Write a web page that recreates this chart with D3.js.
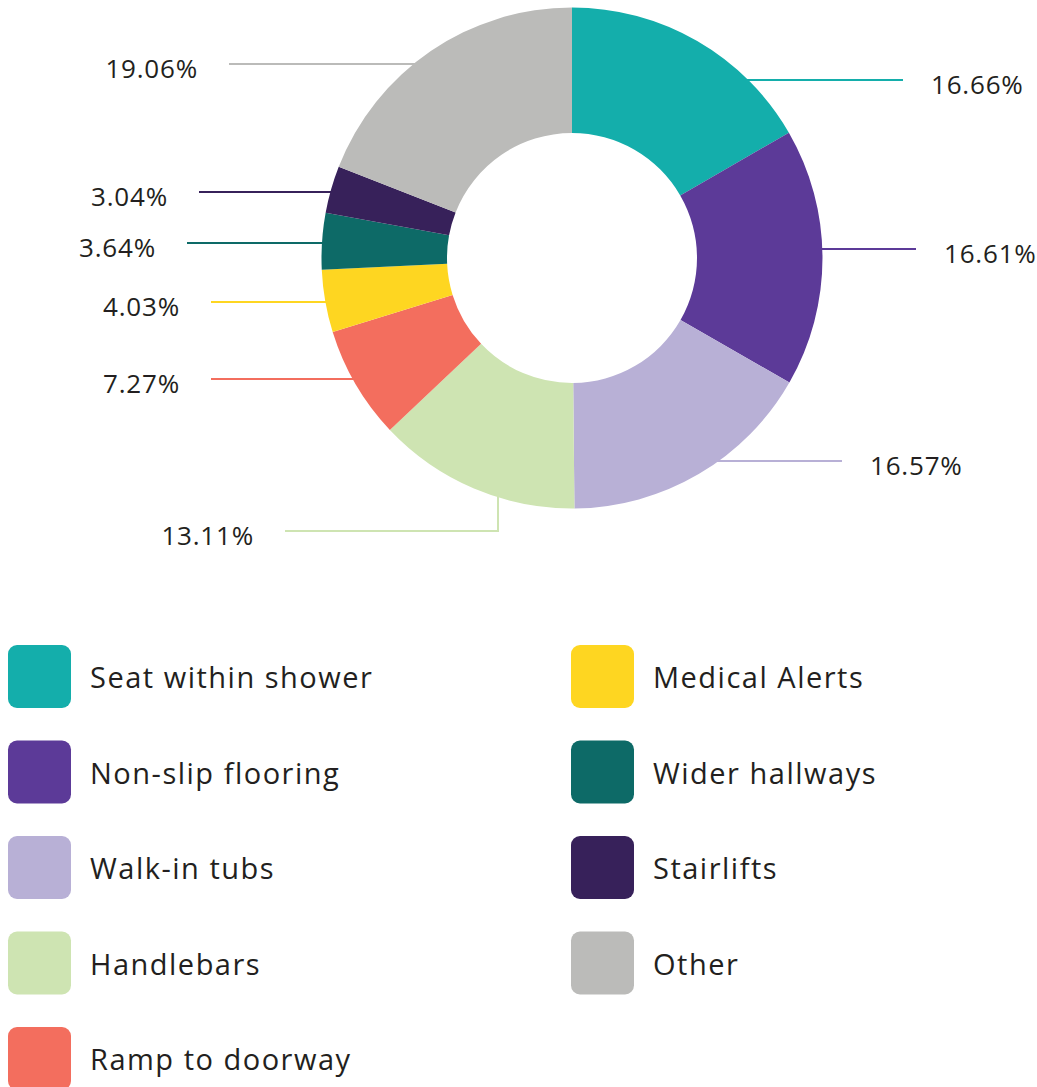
<!DOCTYPE html>
<html lang="en">
<head>
    <meta charset="UTF-8">
    <title>Home modifications</title>
    <script src="https://cdn.jsdelivr.net/npm/d3@7"></script>
    <style>
        body{
            margin: 0;
            background-color: #ffffff;
            font-family: "Open Sans", sans-serif;
        }
        text{
            fill: #231f20;
        }
    </style>
</head>
<body>
<div id="chart"></div>
<script>
    // data
    var CATEGORIES = ["Seat within shower", "Non-slip flooring", "Walk-in tubs", "Handlebars",
        "Ramp to doorway", "Medical Alerts", "Wider hallways", "Stairlifts", "Other"];
    var VALUES = [16.66, 16.61, 16.57, 13.11, 7.27, 4.03, 3.64, 3.04, 19.06];
    var VALUE_LABELS = ["16.66%", "16.61%", "16.57%", "13.11%", "7.27%", "4.03%", "3.64%", "3.04%", "19.06%"];
    var COLORS = ["#14aeab", "#5c3a98", "#b8b0d6", "#cee4b2", "#f36e5e", "#fed621", "#0d6a67", "#37215a", "#bbbbb9"];

    // layout
    var WIDTH = 1037;
    var HEIGHT = 1087;
    var CX = 572, CY = 258;
    var OUTER_R = 250.5;
    var INNER_R = 125;
    var FONT_SIZE = 26;
    var GAP_RIGHT = 28;
    var GAP_LEFT = 31;

    // where each leader line ends, relative to the donut centre (hand placed in the original)
    var LEADER_END = [[331, -178], [344, -9], [270, 203], [-287, 273], [-361, 121],
        [-361, 44], [-385, -15], [-373, -66], [-343, -194]];
    var ELBOW_X = {3: -74};

    var svg = d3.select("#chart").append("svg")
        .attr("width", WIDTH)
        .attr("height", HEIGHT);

    var pie = d3.pie().sort(null).value(function(d){ return d; });
    var arcs = pie(VALUES);

    var arc = d3.arc().innerRadius(INNER_R).outerRadius(OUTER_R);

    var g = svg.append("g").attr("transform", "translate(" + CX + "," + CY + ")");

    // leader lines sit under the slices
    var leaders = g.append("g");
    arcs.forEach(function(a, i){
        var mid = (a.startAngle + a.endAngle) / 2;
        var end = LEADER_END[i];
        var pts;
        if (ELBOW_X[i] !== undefined) {
            var ex = ELBOW_X[i];
            pts = [[ex, end[1] - 120], [ex, end[1]], end];
        } else {
            var sx = Math.sin(mid) * 180;
            pts = [[sx, end[1]], end];
        }
        leaders.append("path")
            .attr("d", d3.line()(pts))
            .attr("fill", "none")
            .attr("stroke", COLORS[i])
            .attr("stroke-width", 2);

        var right = end[0] > 0;
        g.append("text")
            .attr("x", end[0] + (right ? GAP_RIGHT : -GAP_LEFT))
            .attr("y", end[1] + 14)
            .attr("text-anchor", right ? "start" : "end")
            .style("font-size", FONT_SIZE + "px")
            .style("letter-spacing", "0.8px")
            .text(VALUE_LABELS[i]);
    });

    g.selectAll("path.slice")
        .data(arcs)
        .enter().append("path")
        .attr("class", "slice")
        .attr("d", arc)
        .attr("fill", function(d, i){ return COLORS[i]; });

    // legend
    var ROWS = 5;
    var colScale = d3.scaleOrdinal().domain([0, 1]).range([8, 571]);
    var rowScale = d3.scaleLinear().domain([0, ROWS - 1]).range([645, 1027]);
    var SWATCH = 63;

    var legend = svg.append("g");
    var items = legend.selectAll("g.item")
        .data(CATEGORIES)
        .enter().append("g")
        .attr("class", "item")
        .attr("transform", function(d, i){
            return "translate(" + colScale(Math.floor(i / ROWS)) + "," + rowScale(i % ROWS) + ")";
        });

    items.append("rect")
        .attr("width", SWATCH)
        .attr("height", SWATCH)
        .attr("rx", 9)
        .attr("fill", function(d, i){ return COLORS[i]; });

    items.append("text")
        .attr("x", 82)
        .attr("y", 43)
        .style("font-size", "29px")
        .style("letter-spacing", "1.5px")
        .text(function(d){ return d; });
</script>
</body>
</html>
